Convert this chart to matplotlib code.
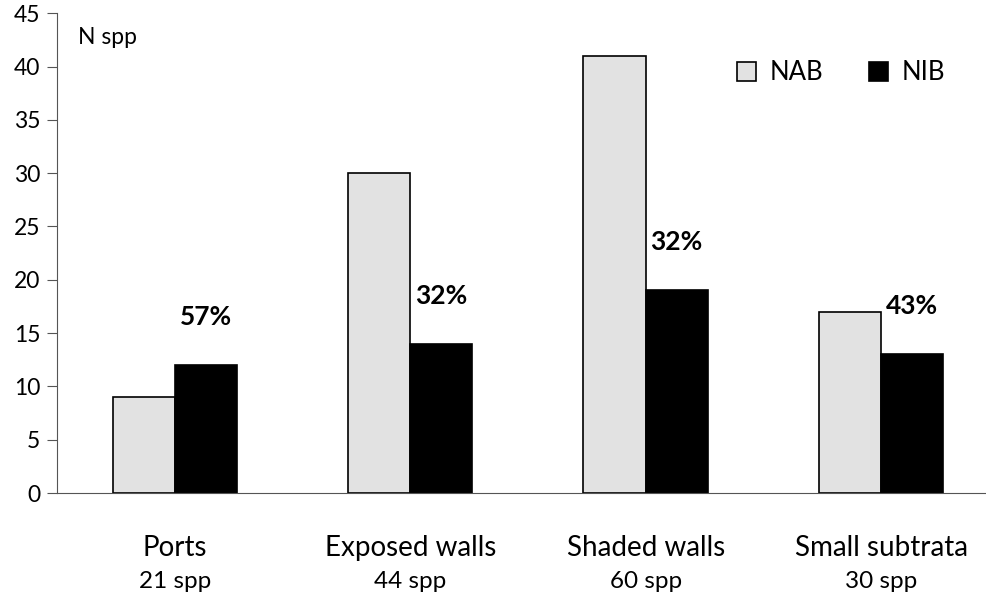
import matplotlib.pyplot as plt
import numpy as np

plt.rcParams['font.family'] = ['Lato', 'DejaVu Sans']

habitats = ['Ports', 'Exposed walls', 'Shaded walls', 'Small subtrata']
totals = ['21 spp', '44 spp', '60 spp', '30 spp']
nab = [9, 30, 41, 17]
nib = [12, 14, 19, 13]
pct = ['57%', '32%', '32%', '43%']

fig = plt.figure(figsize=(9.87, 5.93), dpi=100)
ax = fig.add_axes([0.0578, 0.1686, 0.9422, 0.809])

x = np.arange(len(habitats))
w = 0.264
ax.bar(x - w / 2, nab, w, color='#e2e2e2', edgecolor='black', linewidth=1.2, label='NAB')
ax.bar(x + w / 2, nib, w, color='black', edgecolor='black', linewidth=1.2, label='NIB')

for i in range(len(x)):
    ax.text(x[i] + w / 2, nib[i] + 4.5, pct[i], ha='center', va='center',
            fontsize=19, fontweight='bold')

ax.set_xlim(-0.5, 3.45)
ax.set_ylim(0, 45)
ax.set_yticks(range(0, 46, 5))
ax.tick_params(axis='y', labelsize=16.5, direction='out', length=7, color='#555555', pad=5)
ax.set_xticks([])

# category names and species totals below the axis
trans = ax.get_xaxis_transform()
for i in range(len(x)):
    ax.text(x[i], -0.115, habitats[i], transform=trans, ha='center', va='center', fontsize=20)
    ax.text(x[i], -0.185, totals[i], transform=trans, ha='center', va='center', fontsize=17.5)

ax.spines['top'].set_visible(False)
ax.spines['right'].set_visible(False)
ax.spines['left'].set_color('#555555')
ax.spines['bottom'].set_color('#555555')

ax.text(0.022, 0.95, 'N spp', transform=ax.transAxes, fontsize=16.5, va='center')

fig.legend(loc='center', bbox_to_anchor=(841 / 987, 1 - 73 / 593), ncol=2, frameon=False,
           fontsize=18.5, handlelength=0.75, handleheight=0.75, columnspacing=1.8,
           handletextpad=0.5)

fig.savefig('out.png', dpi=100)
